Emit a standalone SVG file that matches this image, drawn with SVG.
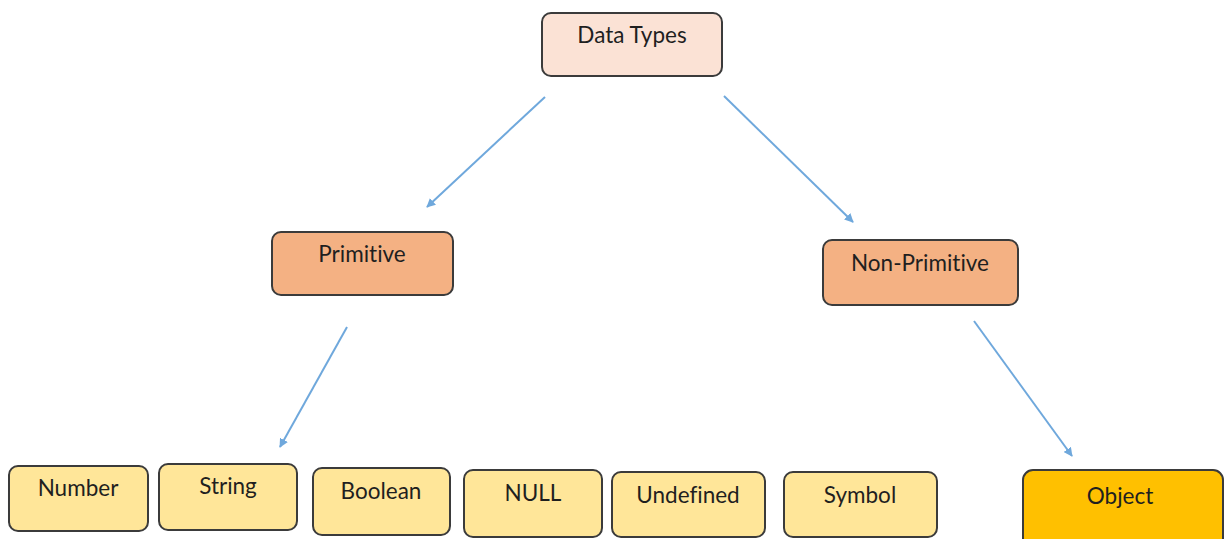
<svg xmlns="http://www.w3.org/2000/svg" width="1224" height="539" viewBox="0 0 1224 539">
  <style>
    .box { stroke: #3b3b3b; stroke-width: 2; }
    .root { fill: #fbe2d5; }
    .mid { fill: #f4b183; }
    .leaf { fill: #ffe699; }
    .obj { fill: #ffc000; }
    text { font-family: Lato, "Open Sans", "Liberation Sans", sans-serif; font-size: 22.5px; fill: #1f1f1f; text-anchor: middle; font-variant-ligatures: none; }
    .edge { stroke: #6fa8dc; stroke-width: 2; fill: none; marker-end: url(#arrow); }
  </style>
  <defs>
    <marker id="arrow" viewBox="0 0 10 10" refX="9" refY="5" markerWidth="9" markerHeight="9" orient="auto-start-reverse" markerUnits="userSpaceOnUse">
      <path d="M0,0 L10,5 L0,10 z" fill="#6fa8dc"/>
    </marker>
  </defs>

  <g id="edges">
    <line class="edge" x1="545" y1="97" x2="427" y2="207"/>
    <line class="edge" x1="724" y1="96" x2="853" y2="222"/>
    <line class="edge" x1="347" y1="327" x2="280" y2="447"/>
    <line class="edge" x1="974" y1="321" x2="1072" y2="456"/>
  </g>

  <g id="data-types">
    <rect class="box root" x="542" y="13" width="180" height="63" rx="9"/>
    <text x="632" y="43">Data Types</text>
  </g>
  <g id="primitive">
    <rect class="box mid" x="272" y="232" width="181" height="63" rx="9"/>
    <text x="362" y="262">Primitive</text>
  </g>
  <g id="non-primitive">
    <rect class="box mid" x="823" y="240" width="195" height="65" rx="9"/>
    <text x="920" y="271">Non-Primitive</text>
  </g>
  <g id="number">
    <rect class="box leaf" x="9" y="466" width="139" height="65" rx="9"/>
    <text x="78" y="496">Number</text>
  </g>
  <g id="string">
    <rect class="box leaf" x="159" y="464" width="138" height="66" rx="9"/>
    <text x="228" y="494">String</text>
  </g>
  <g id="boolean">
    <rect class="box leaf" x="313" y="468" width="137" height="67" rx="9"/>
    <text x="381" y="499">Boolean</text>
  </g>
  <g id="null">
    <rect class="box leaf" x="464" y="470" width="138" height="67" rx="9"/>
    <text x="533" y="501">NULL</text>
  </g>
  <g id="undefined">
    <rect class="box leaf" x="612" y="472" width="153" height="65" rx="9"/>
    <text x="688" y="503">Undefined</text>
  </g>
  <g id="symbol">
    <rect class="box leaf" x="784" y="472" width="153" height="65" rx="9"/>
    <text x="860" y="503">Symbol</text>
  </g>
  <g id="object">
    <rect class="box obj" x="1023" y="470" width="200" height="80" rx="10"/>
    <text x="1120" y="504">Object</text>
  </g>
</svg>
